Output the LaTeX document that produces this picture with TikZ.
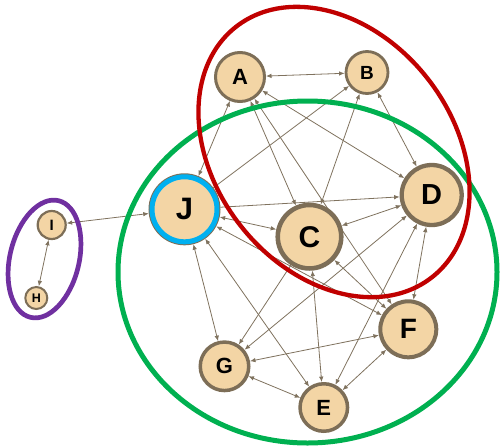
\documentclass[tikz,border=0pt]{standalone}
\usepackage{fontspec}
\setmainfont{Liberation Sans}
\usetikzlibrary{arrows.meta}
\definecolor{nodefill}{HTML}{F3D5A5}
\definecolor{nodeline}{HTML}{7D6E57}
\definecolor{edgecol}{HTML}{7F725E}
\definecolor{redring}{HTML}{C00000}
\definecolor{greenring}{HTML}{00B050}
\definecolor{purplering}{HTML}{7030A0}
\definecolor{bluering}{HTML}{00B0F0}
\pgfdeclarelayer{bg}
\pgfsetlayers{bg,main}
\begin{document}
\begin{tikzpicture}[x=1pt,y=-1pt,
  vert/.style={circle, fill=nodefill, draw=nodeline, inner sep=0pt},
  etip/.tip={Latex[length=5.5pt,width=4.5pt]},
  link/.style={draw=edgecol, line width=0.8pt, etip-etip},
  onelink/.style={draw=edgecol, line width=0.8pt, -etip},
  ring/.style={line width=4.6pt}
]
\useasboundingbox (0,0) rectangle (500,445);

\node[vert, line width=3pt, minimum size=49pt, font=\bfseries\fontsize{22}{22}\selectfont] (A) at (240,77) {A};
\node[vert, line width=2.8pt, minimum size=42pt, font=\bfseries\fontsize{19}{19}\selectfont] (B) at (367,72.5) {B};
\node[vert, line width=4.6pt, minimum size=63.5pt, font=\bfseries\fontsize{30}{30}\selectfont] (C) at (309.5,236.7) {C};
\node[vert, line width=4.3pt, minimum size=60pt, font=\bfseries\fontsize{29}{29}\selectfont] (D) at (431.7,195) {D};
\node[vert, line width=3.5pt, minimum size=47.5pt, font=\bfseries\fontsize{22}{22}\selectfont] (E) at (323.8,407.5) {E};
\node[vert, line width=4pt, minimum size=56pt, font=\bfseries\fontsize{28}{28}\selectfont] (F) at (408.3,329.3) {F};
\node[vert, line width=3.5pt, minimum size=48.5pt, font=\bfseries\fontsize{22}{22}\selectfont] (G) at (224.5,366.3) {G};
\node[vert, line width=2pt, minimum size=22pt, font=\bfseries\fontsize{12.5}{12.5}\selectfont] (H) at (36.3,298) {H};
\node[vert, line width=2.2pt, minimum size=28pt, font=\bfseries\fontsize{15}{15}\selectfont] (I) at (51.7,225) {I};
\node[vert, draw=bluering, line width=5pt, outer sep=3.5pt, minimum size=65pt,
      preaction={draw=nodeline, line width=7pt},
      font=\bfseries\fontsize{31}{31}\selectfont] (J) at (184.5,209.3) {J};

\begin{pgfonlayer}{bg}
\draw[link] (A) -- (B);
\draw[link] (A) -- (J);
\draw[link] (A) -- (C);
\draw[link] (A) -- (D);
\draw[link] (A) -- (F);
\draw[onelink] (J) -- (B);
\draw[link] (B) -- (C);
\draw[link] (B) -- (D);
\draw[onelink] (J) -- (D);
\draw[link] (J) -- (C);
\draw[link] (J) -- (F);
\draw[link] (J) -- (E);
\draw[link] (J) -- (G);
\draw[link] (C) -- (D);
\draw[link] (C) -- (E);
\draw[onelink] (C) -- (G);
\draw[link] (C) -- (F);
\draw[link] (D) -- (G);
\draw[link] (D) -- (E);
\draw[link] (D) -- (F);
\draw[link] (G) -- (F);
\draw[link] (G) -- (E);
\draw[link] (E) -- (F);
\draw[link] (I) -- (J);
\draw[link] (I) -- (H);

\draw[ring, draw=greenring, line width=5pt] (307.5,272) ellipse [x radius=189.5pt, y radius=171pt];
\draw[ring, draw=redring, line width=4.3pt] (334,152) ellipse [x radius=159pt, y radius=119pt, rotate=-52];
\draw[ring, draw=purplering, line width=4.7pt] (44.5,259) ellipse [x radius=60pt, y radius=34.6pt, rotate=76.5];
\end{pgfonlayer}
\end{tikzpicture}
\end{document}
